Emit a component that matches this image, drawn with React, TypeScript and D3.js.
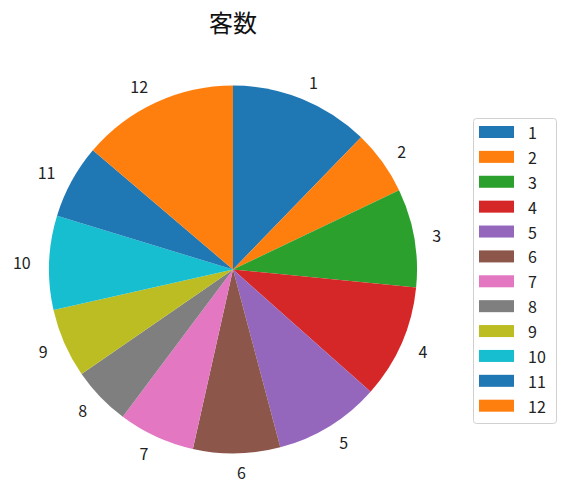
import React, { useEffect, useRef } from 'react';
import * as d3 from 'd3';

const title = '客数';
const months = ['1', '2', '3', '4', '5', '6', '7', '8', '9', '10', '11', '12'];
const guests = [441, 204, 311, 360, 335, 275, 242, 186, 219, 297, 234, 496];

const W = 570;
const H = 485;

const App: React.FC = () => {
  const svgRef = useRef<SVGSVGElement>(null);

  useEffect(() => {
    if (!svgRef.current) return;
    const svg = d3.select(svgRef.current);
    svg.selectAll('*').remove();

    const font = '"Noto Sans CJK JP", "Noto Sans", sans-serif';
    const cx = 233;
    const cy = 269.5;
    const r = 184;

    const color = d3.scaleOrdinal<string, string>().domain(months).range(d3.schemeCategory10);

    const data = months.map((m, i) => ({ month: m, value: guests[i] }));
    const pie = d3.pie<{ month: string; value: number }>()
      .value(d => d.value)
      .sort(null)
      .startAngle(0)
      .endAngle(2 * Math.PI);
    const arcs = pie(data);
    const arc = d3.arc<d3.PieArcDatum<{ month: string; value: number }>>()
      .innerRadius(0)
      .outerRadius(r);

    const g = svg.append('g').attr('transform', `translate(${cx},${cy})`);
    g.selectAll('path')
      .data(arcs)
      .join('path')
      .attr('d', arc)
      .attr('fill', d => color(d.data.month));

    // labels at 1.1 * radius, like matplotlib
    g.selectAll('text')
      .data(arcs)
      .join('text')
      .each(function (d) {
        const a = (d.startAngle + d.endAngle) / 2;
        const x = Math.sin(a) * r * 1.1;
        const y = -Math.cos(a) * r * 1.1;
        d3.select(this)
          .attr('x', x)
          .attr('y', y)
          .attr('text-anchor', x >= 0 ? 'start' : 'end');
      })
      .attr('dominant-baseline', 'central')
      .attr('font-family', font)
      .attr('font-size', 16)
      .attr('fill', '#222')
      .text(d => d.data.month);

    svg.append('text')
      .attr('x', cx)
      .attr('y', 21)
      .attr('text-anchor', 'middle')
      .attr('dominant-baseline', 'central')
      .attr('font-family', font)
      .attr('font-size', 24)
      .attr('fill', '#111')
      .text(title);

    // legend
    const lg = svg.append('g').attr('transform', 'translate(473.5,118.5)');
    lg.append('rect')
      .attr('width', 83)
      .attr('height', 305)
      .attr('rx', 3)
      .attr('fill', 'white')
      .attr('stroke', '#d0d0d0');
    const row = d3.scaleLinear().domain([0, months.length - 1]).range([13.5, 287.2]);
    months.forEach((m, i) => {
      lg.append('rect')
        .attr('x', 5.5)
        .attr('y', row(i) - 6)
        .attr('width', 35)
        .attr('height', 12)
        .attr('fill', color(m));
      lg.append('text')
        .attr('x', 54.5)
        .attr('y', row(i))
        .attr('dominant-baseline', 'central')
        .attr('font-family', font)
        .attr('font-size', 16)
        .attr('fill', '#222')
        .text(m);
    });
  }, []);

  return (
    <div style={{ position: 'fixed', left: 0, top: 0, width: W, height: H, background: 'white' }}>
      <svg ref={svgRef} width={W} height={H} />
    </div>
  );
};

export default App;
